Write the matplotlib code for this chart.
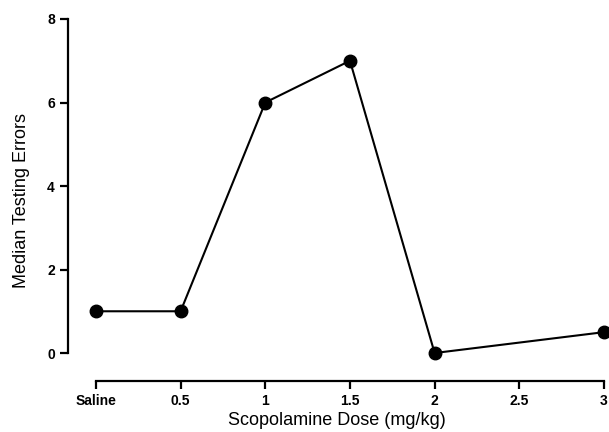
import matplotlib.pyplot as plt

# scopolamine dose vs median testing errors
dose_pos = [0, 0.5, 1, 1.5, 2, 3]
errors = [1, 1, 6, 7, 0, 0.5]
xtick_pos = [0, 0.5, 1, 1.5, 2, 2.5, 3]
xtick_labels = ['Saline', '0.5', '1', '1.5', '2', '2.5', '3']
ytick_pos = [0, 2, 4, 6, 8]

plt.rcParams['font.family'] = ['Liberation Sans', 'DejaVu Sans']

fig = plt.figure(figsize=(6.09, 4.32), dpi=100)
ax = fig.add_axes([68/609, 51/432, 538/609, 362/432])

ax.plot(dose_pos, errors, '-o', color='black', linewidth=1.5,
        markersize=9, clip_on=False)

ax.set_xlim(-0.165, 3.012)
ax.set_ylim(-0.67, 8)

ax.spines['top'].set_visible(False)
ax.spines['right'].set_visible(False)
ax.spines['left'].set_bounds(0, 8)
ax.spines['bottom'].set_bounds(0, 3)
for s in ['left', 'bottom']:
    ax.spines[s].set_linewidth(1.6)

ax.set_xticks(xtick_pos)
ax.set_xticklabels(xtick_labels)
ax.set_yticks(ytick_pos)
ax.tick_params(axis='both', width=1.6, length=6, labelsize=10)
for lab in ax.get_xticklabels() + ax.get_yticklabels():
    lab.set_fontweight('bold')

ax.set_xlabel('Scopolamine Dose (mg/kg)', fontsize=13, labelpad=3)
ax.set_ylabel('Median Testing Errors', fontsize=13, labelpad=12)

fig.savefig('out.png', dpi=100)
